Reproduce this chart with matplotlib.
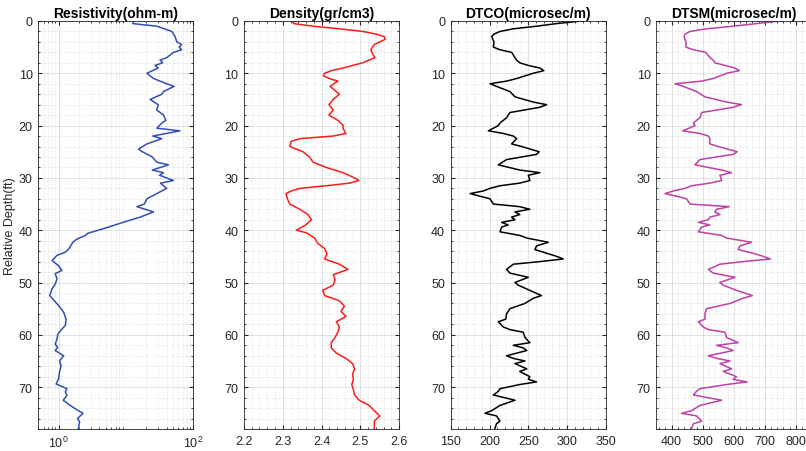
import matplotlib
matplotlib.use("Agg")
import matplotlib.pyplot as plt
from matplotlib.ticker import MultipleLocator, LogLocator, NullFormatter, FixedLocator

plt.rcParams['font.family'] = ['Liberation Sans', 'DejaVu Sans']

# Resistividad (escala log)
res_depth = [0, 0.5, 1, 2, 3, 4, 4.5, 5, 5.5, 6, 7, 7.5, 8, 8.5, 9, 10, 11, 12, 12.5, 13.5,
             14, 15, 16, 17, 18, 19, 19.5, 20.5, 21, 21.5, 22, 22.5, 23.5, 24.5, 25, 26, 27, 27.5,
             28.5, 29, 29.5, 30.5, 31, 32, 33, 34, 35, 35.5, 36.5, 37.5, 38, 39.1, 40, 40.6,
             41, 41.7, 42.3, 43.6, 44.2, 44.8, 45.8, 46.8, 47.7, 48.3, 49.3, 50.3, 51.2, 52.5,
             54.4, 55.7, 57, 58.2, 58.9, 59.9, 60.8, 61.8, 62.4, 63, 64, 65, 65.9, 67.2, 68.4,
             69.4, 70.3, 70.9, 71.6, 72.5, 73.5, 74.4, 75, 76, 76.6, 77.9]
res_val = [12.9, 12.6, 28.7, 47.8, 53.5, 56.7, 67, 61.5, 67, 50.6, 40.3, 32, 35, 27, 30, 20.4,
           25.6, 40, 51.6, 36, 34, 22.8, 30, 28.6, 36, 39, 34, 28.7, 63, 40, 25, 34, 20.4, 15.3,
           17.5, 24.5, 28.6, 42.6, 24.5, 36, 31.5, 50.6, 32.5, 40, 28.6, 20.4, 18.7, 14.5, 25.6,
           16.2, 12.0, 6.5, 3.9, 2.7, 2.5, 1.87, 1.63, 1.41, 1.26, 0.95, 0.80, 1.0, 1.12, 0.89,
           0.95, 0.89, 0.80, 0.74, 1.0, 1.19, 1.29, 1.26, 1.12, 0.97, 0.95, 0.89, 0.97, 0.89,
           1.19, 1.03, 1.09, 1.03, 1.0, 0.92, 1.33, 1.26, 1.33, 1.17, 1.49, 1.91, 2.3, 1.91,
           2.05, 1.97]

# Densidad
den_depth = [0, 0.5, 1, 1.5, 2, 2.5, 3, 3.5, 4.5, 5.5, 6.5, 7, 8, 9, 9.5, 10, 10.5, 11, 11.5,
             12.5, 13, 14, 15, 16, 17, 18, 19, 20, 20.5, 21.5, 22, 22.5, 23, 24, 25, 26, 27, 28,
             29, 30, 30.5, 31, 31.5, 32, 32.5, 33, 34, 35, 36, 37, 38, 39, 40, 40.5, 41.5, 42.5,
             43.5, 44.5, 45.5, 46.5, 47.5, 48.5, 49.5, 50.5, 51.5, 52.5, 53.5, 54.5, 55.5, 56.5,
             57.5, 58.5, 59.5, 60.5, 61.5, 62.5, 63.5, 64.5, 65.5, 66.5, 67.5, 68.5, 69.5, 70.5,
             71.5, 72.5, 73.5, 74.5, 75.5, 76.5, 77.9]
den_val = [2.325, 2.328, 2.378, 2.446, 2.506, 2.54, 2.562, 2.564, 2.536, 2.527, 2.533, 2.538,
           2.506, 2.455, 2.425, 2.408, 2.405, 2.42, 2.442, 2.422, 2.43, 2.446, 2.43, 2.419, 2.43,
           2.419, 2.442, 2.456, 2.455, 2.463, 2.43, 2.344, 2.322, 2.318, 2.352, 2.369, 2.378,
           2.412, 2.455, 2.485, 2.496, 2.472, 2.412, 2.344, 2.322, 2.308, 2.312, 2.318, 2.344,
           2.365, 2.374, 2.359, 2.335, 2.361, 2.382, 2.39, 2.408, 2.414, 2.408, 2.446, 2.468,
           2.43, 2.435, 2.43, 2.403, 2.408, 2.446, 2.459, 2.45, 2.463, 2.438, 2.446, 2.442,
           2.435, 2.425, 2.425, 2.438, 2.463, 2.48, 2.485, 2.48, 2.482, 2.478, 2.482, 2.485,
           2.497, 2.523, 2.536, 2.55, 2.536, 2.536]

# DTCO y DTSM (mismas profundidades)
dt_depth = [0, 0.5, 1, 1.5, 2, 2.5, 3, 4, 5, 5.5, 6, 7, 7.5, 8, 8.5, 9, 9.5, 10, 11, 11.5, 12,
            12.5, 13.5, 14.5, 15.5, 16, 16.5, 17.5, 18.5, 19.5, 20, 21, 21.5, 22, 22.5, 23.5,
            24, 25, 25.5, 26.5, 27.5, 28.5, 29, 29.5, 30.5, 31, 31.5, 32, 32.5, 33, 33.5, 34,
            35, 35.5, 36, 36.5, 37, 37.5, 38, 38.5, 39, 39.4, 40.3, 41, 41.5, 42.3, 43, 43.7,
            44.5, 45, 45.5, 46, 46.5, 47.5, 48.2, 49, 50, 50.5, 51.5, 52.5, 53, 54, 55, 56, 57,
            57.5, 58.5, 59, 59.5, 60.5, 61.5, 62, 62.5, 63, 64, 64.5, 65, 65.5, 66.5, 67, 68,
            68.5, 69, 69.5, 70.3, 70.8, 71.5, 72.5, 73.5, 74.5, 75, 75.5, 76.5, 77, 77.9]
dtco_val = [318.7, 286.5, 260.7, 230.7, 213.5, 205.8, 202.8, 205.8, 205, 213.5, 228.5, 232.8,
            235, 239, 250, 265, 270, 256.4, 235, 222, 200.6, 209, 226.4, 232.8, 256.4, 273.6,
            265, 226.4, 222, 213.5, 211.4, 198.5, 217.8, 230.7, 235, 228.5, 241.4, 264, 260.7,
            222, 211.4, 239, 265, 250, 252, 239, 213.5, 200.6, 192, 175, 187.8, 200.6, 205,
            239, 252, 232.8, 239, 228.5, 232.8, 215.7, 224, 215.7, 213.5, 239, 248, 275.8,
            260.7, 258.5, 275.8, 286.5, 295, 265, 230.7, 222, 226.4, 250, 232.8, 237, 252, 267,
            256.4, 245.7, 226.4, 222, 221, 211.4, 217.8, 226.4, 243.5, 245.7, 252, 230.7, 243.5,
            248, 222, 230.7, 245.7, 232.8, 248, 239, 252, 250, 260.7, 239, 213.5, 211.4, 205,
            232.8, 213.5, 202.8, 194.2, 209, 213.5, 209, 207]
dtsm_val = [748.5, 673.5, 598, 512.6, 459, 443, 439.7, 446, 446, 469.7, 510, 523, 534, 539.4,
            571.6, 603.8, 617.7, 577, 534, 496.5, 410.7, 437.5, 480.4, 507, 577, 625, 598.4,
            496.5, 491, 469.7, 475, 435.4, 491, 518, 523, 523, 550, 611, 598, 491, 475, 561,
            593, 555.6, 561, 523, 464, 443, 405, 378.6, 416, 448, 459, 585.5, 545, 539, 555.6,
            523, 518, 486, 523, 496.5, 486, 561, 577, 657, 620, 614.5, 668, 695, 718, 630, 555,
            518, 534, 604, 555, 566, 609, 660, 630, 588, 512.6, 507, 507, 486, 502, 518, 571.6,
            577, 614.5, 545, 577, 598, 518, 545, 588, 555.6, 593, 566, 609, 598, 643, 577, 491,
            480, 470, 561, 491, 464, 432, 480, 496.5, 470, 464]

titles = ["Resistivity(ohm-m)", "Density(gr/cm3)", "DTCO(microsec/m)", "DTSM(microsec/m)"]

fig = plt.figure(figsize=(8.06, 4.52), dpi=100)
lefts = [0.0475, 0.3027, 0.5592, 0.8141]
gris = (0.15, 0.15, 0.15)

axes = []
for l in lefts:
    ax = fig.add_axes([l, 0.0487, 0.1925, 0.9027])
    axes.append(ax)

axes[0].plot(res_val, res_depth, color=(0.2, 0.3, 0.7), lw=1.1)
axes[0].set_xscale('log')
axes[0].set_xlim(0.5, 100)
axes[0].xaxis.set_major_locator(FixedLocator([1, 100]))
axes[0].xaxis.set_minor_locator(LogLocator(base=10, subs=range(2, 10)))
axes[0].xaxis.set_minor_formatter(NullFormatter())

axes[1].plot(den_val, den_depth, color=(1, 0.1, 0.1), lw=1.1)
axes[1].set_xlim(2.2, 2.6)
axes[1].xaxis.set_major_locator(MultipleLocator(0.1))
axes[1].xaxis.set_minor_locator(MultipleLocator(0.02))

axes[2].plot(dtco_val, dt_depth, color='black', lw=1.1)
axes[2].set_xlim(150, 350)
axes[2].xaxis.set_major_locator(MultipleLocator(50))
axes[2].xaxis.set_minor_locator(MultipleLocator(10))

axes[3].plot(dtsm_val, dt_depth, color=(0.75, 0.25, 0.65), lw=1.1)
axes[3].set_xlim(350, 850)
axes[3].xaxis.set_major_locator(FixedLocator([400, 500, 600, 700, 800]))
axes[3].xaxis.set_minor_locator(MultipleLocator(20))

for ax, t in zip(axes, titles):
    ax.set_ylim(78, 0)
    ax.yaxis.set_major_locator(MultipleLocator(10))
    ax.yaxis.set_minor_locator(MultipleLocator(2))
    ax.set_title(t, fontsize=10, fontweight='bold', pad=3)
    ax.grid(True, which='major', color=(0.15, 0.15, 0.15), alpha=0.15, lw=0.6)
    ax.grid(True, which='minor', color=(0.15, 0.15, 0.15), alpha=0.2, lw=0.5, ls=':')
    ax.tick_params(which='both', direction='in', top=True, right=True, colors=gris,
                   labelsize=9, labelcolor=gris)
    ax.tick_params(which='major', length=3, pad=4)
    ax.tick_params(which='minor', length=1.5)
    for s in ax.spines.values():
        s.set_color(gris)
        s.set_linewidth(0.6)

axes[0].set_ylabel("Relative Depth(ft)", fontsize=9, color=gris, labelpad=2)

plt.savefig("out.png", dpi=100)
